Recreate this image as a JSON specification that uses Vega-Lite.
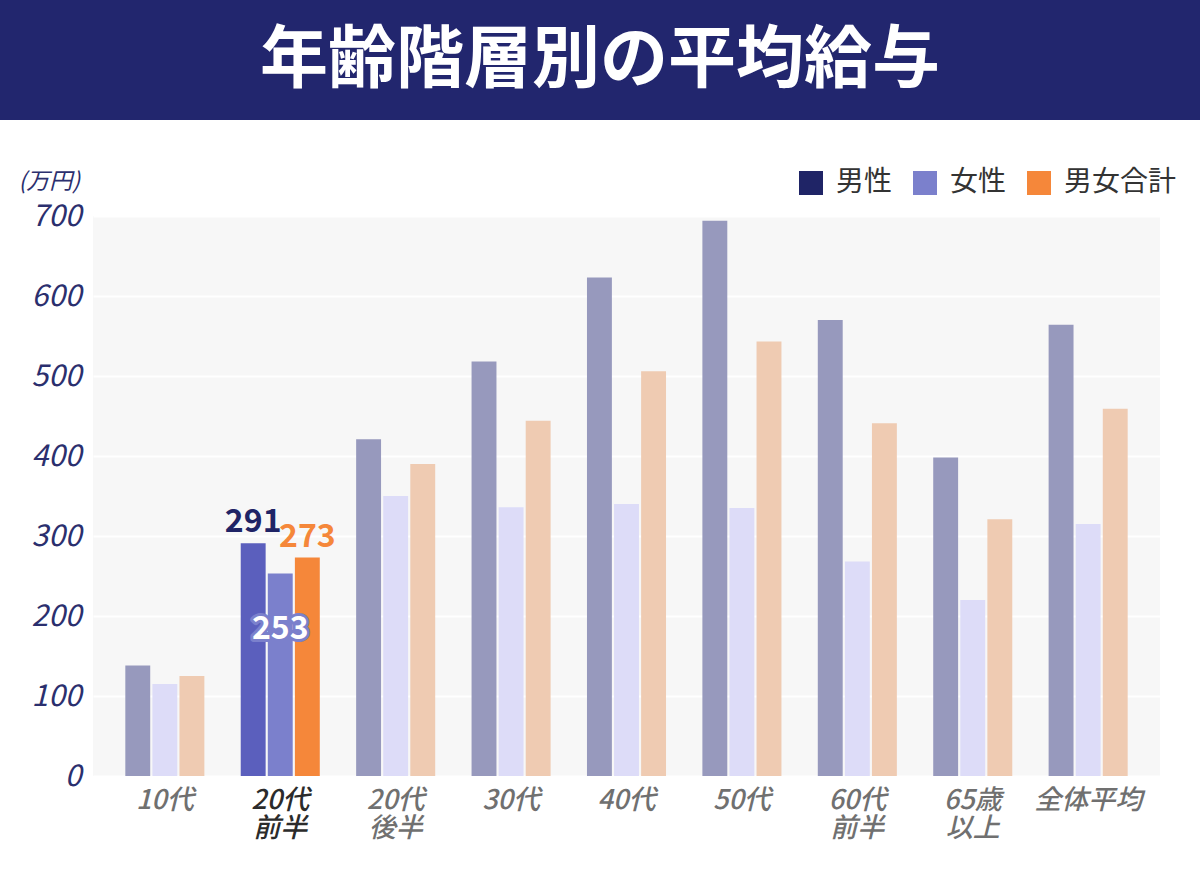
{
  "$schema": "https://vega.github.io/schema/vega-lite/v6.json",
  "background": "white",
  "padding": 0,
  "config": {"font": "Noto Sans CJK JP", "view": {"stroke": null}},
  "spacing": 50,
  "vconcat": [
    {
      "width": 1200,
      "height": 120,
      "view": {"fill": "#22266e", "stroke": null},
      "data": {"values": [{"title": "年齢階層別の平均給与"}]},
      "mark": {"type": "text", "color": "white", "fontSize": 68, "fontWeight": "bold", "align": "center", "baseline": "middle", "dy": 2},
      "encoding": {"text": {"field": "title", "type": "nominal"}}
    },
    {
      "spacing": 0,
      "hconcat": [
        {
          "width": 18,
          "height": 1,
          "view": {"stroke": null},
          "data": {"values": []},
          "mark": "point"
        },
        {
          "width": 1067,
          "height": 560,
          "view": {"fill": "#f7f7f7", "stroke": null},
          "data": {
            "values": [
              {"group": "10代", "series": "男性", "value": 138},
              {"group": "10代", "series": "女性", "value": 115},
              {"group": "10代", "series": "男女合計", "value": 125},
              {"group": "20代前半", "series": "男性", "value": 291},
              {"group": "20代前半", "series": "女性", "value": 253},
              {"group": "20代前半", "series": "男女合計", "value": 273},
              {"group": "20代後半", "series": "男性", "value": 421},
              {"group": "20代後半", "series": "女性", "value": 350},
              {"group": "20代後半", "series": "男女合計", "value": 390},
              {"group": "30代", "series": "男性", "value": 518},
              {"group": "30代", "series": "女性", "value": 336},
              {"group": "30代", "series": "男女合計", "value": 444},
              {"group": "40代", "series": "男性", "value": 623},
              {"group": "40代", "series": "女性", "value": 340},
              {"group": "40代", "series": "男女合計", "value": 506},
              {"group": "50代", "series": "男性", "value": 694},
              {"group": "50代", "series": "女性", "value": 335},
              {"group": "50代", "series": "男女合計", "value": 543},
              {"group": "60代前半", "series": "男性", "value": 570},
              {"group": "60代前半", "series": "女性", "value": 268},
              {"group": "60代前半", "series": "男女合計", "value": 441},
              {"group": "65歳以上", "series": "男性", "value": 398},
              {"group": "65歳以上", "series": "女性", "value": 220},
              {"group": "65歳以上", "series": "男女合計", "value": 321},
              {"group": "全体平均", "series": "男性", "value": 564},
              {"group": "全体平均", "series": "女性", "value": 315},
              {"group": "全体平均", "series": "男女合計", "value": 459}
            ]
          },
          "transform": [
            {"calculate": "datum.group == '20代前半' ? (datum.series == '男性' ? '男性(強調)' : datum.series) : datum.series + '(淡)'", "as": "key"}
          ],
          "encoding": {
            "x": {
              "field": "group",
              "type": "nominal",
              "sort": null,
              "scale": {"paddingInner": 0.315, "paddingOuter": 0.28},
              "axis": {
                "title": null,
                "labelAngle": 0,
                "labelExpr": "datum.label == '20代前半' ? ['20代','前半'] : datum.label == '20代後半' ? ['20代','後半'] : datum.label == '60代前半' ? ['60代','前半'] : datum.label == '65歳以上' ? ['65歳','以上'] : datum.label",
                "labelFontSize": 27,
                "labelFontStyle": "italic",
                "labelFontWeight": 500,
                "labelColor": {"condition": {"test": "datum.value == '20代前半'", "value": "#2b2b2b"}, "value": "#707070"},
                "labelPadding": 11,
                "labelLineHeight": 28,
                "ticks": false,
                "domain": false
              }
            },
            "xOffset": {"field": "series", "type": "nominal", "sort": ["男性", "女性", "男女合計"], "scale": {"paddingInner": 0.08}},
            "y": {
              "field": "value",
              "type": "quantitative",
              "scale": {"domain": [0, 700]},
              "axis": {
                "title": "(万円)",
                "titleAngle": 0,
                "titleX": -75,
                "titleY": -35,
                "titleAlign": "left",
                "titleBaseline": "middle",
                "titleFontSize": 23,
                "titleFontWeight": "normal",
                "titleFontStyle": "italic",
                "titleColor": "#2b2f6e",
                "values": [0, 100, 200, 300, 400, 500, 600, 700],
                "labelFontSize": 30,
                "labelFontStyle": "italic",
                "labelColor": "#2b2f6e",
                "labelPadding": 12,
                "ticks": false,
                "domain": false,
                "grid": true,
                "gridColor": "#ffffff",
                "gridWidth": 2
              }
            }
          },
          "layer": [
            {
              "mark": {"type": "bar"},
              "encoding": {
                "color": {
                  "field": "key",
                  "type": "nominal",
                  "scale": {
                    "domain": ["男性", "女性", "男女合計", "男性(強調)", "男性(淡)", "女性(淡)", "男女合計(淡)"],
                    "range": ["#1f2466", "#7b80cc", "#f5873a", "#5b5fbd", "#9799bd", "#dddcf8", "#efcbb2"]
                  },
                  "legend": {
                    "values": ["男性", "女性", "男女合計"],
                    "title": null,
                    "orient": "none",
                    "direction": "horizontal",
                    "legendX": 797,
                    "legendY": 169,
                    "symbolType": "square",
                    "symbolSize": 576,
                    "symbolStrokeWidth": 0,
                    "symbolOpacity": 1,
                    "labelFontSize": 28,
                    "labelColor": "#333333",
                    "labelOffset": 11,
                    "columnPadding": 18
                  }
                }
              }
            },
            {
              "transform": [{"filter": "datum.group == '20代前半' && datum.series != '女性'"}],
              "mark": {"type": "text", "fontSize": 32, "fontWeight": "bold", "baseline": "bottom", "dy": -4},
              "encoding": {
                "text": {"field": "value", "type": "quantitative"},
                "color": {"field": "series", "type": "nominal"}
              }
            },
            {
              "transform": [{"filter": "datum.group == '20代前半' && datum.series == '女性'"}],
              "mark": {"type": "text", "fontSize": 32, "fontWeight": "bold", "baseline": "middle", "dy": 55, "stroke": "#7b80cc", "strokeWidth": 6, "strokeJoin": "round", "fill": "#7b80cc"},
              "encoding": {
                "text": {"field": "value", "type": "quantitative"}
              }
            },
            {
              "transform": [{"filter": "datum.group == '20代前半' && datum.series == '女性'"}],
              "mark": {"type": "text", "fontSize": 32, "fontWeight": "bold", "baseline": "middle", "dy": 55, "fill": "white"},
              "encoding": {
                "text": {"field": "value", "type": "quantitative"}
              }
            }
          ]
        }
      ]
    }
  ]
}
